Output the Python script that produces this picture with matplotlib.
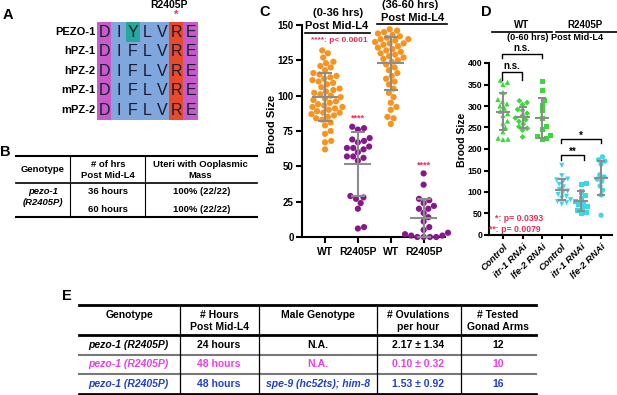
import numpy as np
import matplotlib.pyplot as plt
from matplotlib.patches import Rectangle

plt.rcParams['font.family'] = ['Liberation Sans', 'DejaVu Sans']
plt.rcParams['font.weight'] = 'bold'

W, H = 617, 395

# ---- panel A: alignment
seq_names = ['PEZO-1', 'hPZ-1', 'hPZ-2', 'mPZ-1', 'mPZ-2']
seqs = ['DIYLVRE', 'DIFLVRE', 'DIFLVRE', 'DIFLVRE', 'DIFLVRE']
col_colors = ['#c65cc9', '#7fa6dd', '#7fa6dd', '#7fa6dd', '#7fa6dd', '#e84a2c', '#c65cc9']

# ---- panel B: table
b_header = ['Genotype', '# of hrs\nPost Mid-L4', 'Uteri with Ooplasmic\nMass']
b_hours = ['36 hours', '60 hours']
b_uteri = ['100% (22/22)', '100% (22/22)']

# ---- panel C: brood size
c_labels = ['WT', 'R2405P', 'WT', 'R2405P']
wt_0_36 = [132, 130, 127, 124, 123, 121, 120, 118, 116, 115, 114, 113, 112, 111,
           110, 109, 108, 106, 105, 104, 103, 102, 101, 100, 99, 98, 97, 96, 95,
           94, 93, 92, 92, 91, 90, 89, 88, 88, 87, 86, 85, 84, 83, 81, 79, 75, 73,
           68, 67, 62]
r2405p_0_36 = [78, 77, 76, 70, 69, 68, 67, 64, 63, 63, 62, 60, 57, 57, 56, 54,
               29, 28, 27, 24, 20, 7, 6]
wt_36_60 = [147, 146, 145, 144, 143, 142, 141, 140, 140, 139, 138, 137, 137, 136,
            135, 134, 133, 132, 131, 130, 129, 128, 127, 126, 125, 124, 122, 120,
            118, 116, 114, 112, 110, 108, 105, 102, 99, 95, 92, 90, 85, 84, 80]
r2405p_36_60 = [45, 37, 27, 26, 24, 22, 20, 20, 17, 14, 11, 7, 5, 3, 2, 1, 1,
                0, 0, 0, 0]

# ---- panel D: RNAi brood size
d_labels = ['Control', 'itr-1 RNAi', 'lfe-2 RNAi'] * 2
wt_control = [360, 355, 350, 332, 315, 310, 305, 300, 295, 288, 282, 278, 265,
              260, 250, 240, 225, 223, 222]
wt_itr1 = [312, 308, 303, 292, 290, 283, 278, 272, 268, 264, 258, 252, 248, 244, 228]
wt_lfe2 = [358, 335, 312, 302, 290, 272, 252, 245, 232, 228, 225, 222]
mut_control = [162, 138, 130, 128, 125, 118, 112, 106, 102, 98, 94, 90, 86, 82,
               78, 75, 72]
mut_itr1 = [120, 118, 100, 92, 85, 78, 74, 70, 66, 62, 58, 52, 50]
mut_lfe2 = [182, 175, 172, 165, 140, 135, 130, 125, 114, 104, 93, 46]

# ---- panel E: table
e_header = ['Genotype', '# Hours\nPost Mid-L4', 'Male Genotype',
            '# Ovulations\nper hour', '# Tested\nGonad Arms']
e_hours = ['24 hours', '48 hours', '48 hours']
e_male = ['N.A.', 'N.A.', 'spe-9 (hc52ts); him-8']
e_rate = ['2.17 ± 1.34', '0.10 ± 0.32', '1.53 ± 0.92']
e_arms = ['12', '10', '16']
e_colors = ['black', '#e63fe6', '#1f3fd0']

red = '#ec2d55'
grey = '#8c8c8c'


def px(x0, y0, x1, y1):
    return [x0 / W, 1 - y1 / H, (x1 - x0) / W, (y1 - y0) / H]


def swarm_x(ax, xc, vals, d):
    pts = ax.transData.transform([(xc, v) for v in vals])
    ys = pts[:, 1]
    placed = []
    offs = np.zeros(len(vals))
    for i in np.argsort(ys):
        y = ys[i]
        cands = [0.0]
        for qx, qy in placed:
            dy = abs(y - qy)
            if dy < d:
                h = np.sqrt(d * d - dy * dy)
                cands += [qx + h, qx - h]
        cands.sort(key=abs)
        for c in cands:
            if all((c - qx) ** 2 + (y - qy) ** 2 >= d * d - 1e-6 for qx, qy in placed):
                break
        placed.append((c, y))
        offs[i] = c
    unit = ax.transData.transform((1, 0))[0] - ax.transData.transform((0, 0))[0]
    return xc + offs / unit


def dot_plot(ax, i, vals, color, marker, s, d, half, cap):
    xs = swarm_x(ax, i, vals, d)
    ax.scatter(xs, vals, s=s, marker=marker, color=color, edgecolors='none',
               clip_on=False, zorder=3)
    m, sd = np.mean(vals), np.std(vals, ddof=1)
    ax.errorbar(i, m, yerr=sd, fmt='none', ecolor=grey, elinewidth=1.5,
                capsize=cap, capthick=1.5, zorder=4)
    ax.hlines(m, i - half, i + half, color=grey, lw=1.5, zorder=4)


fig = plt.figure(figsize=(W / 100, H / 100), dpi=100)
ov = fig.add_axes([0, 0, 1, 1])
ov.set_xlim(0, W)
ov.set_ylim(H, 0)
ov.axis('off')

# panel letters
for lab, x, y in [('A', 8, 15), ('B', 5, 152), ('C', 265, 12), ('D', 486, 12), ('E', 67, 296)]:
    ov.text(x, y, lab, fontsize=10.5, ha='center', va='center')

# ---- A
edges = 97 + 14.4 * np.arange(8)
top, rh = 22, 19.5
for r, (name, seq) in enumerate(zip(seq_names, seqs)):
    y0 = top + r * rh
    ov.text(95, y0 + rh / 2, name, ha='right', va='center', fontsize=8)
    for c, ch in enumerate(seq):
        fc = '#24a99c' if ch == 'Y' else col_colors[c]
        ov.add_patch(Rectangle((edges[c], y0), 14.4, rh, facecolor=fc, edgecolor='none'))
        ov.text(edges[c] + 7.2, y0 + rh / 2 + 0.5, ch, ha='center', va='center',
                fontsize=11.5, fontweight='normal', color='#1a1a30')
ov.text(169, 5, 'R2405P', ha='center', va='center', fontsize=7.5)
ov.text(176, 15, '*', ha='center', va='center', fontsize=8, color=red)

# ---- B
ov.plot([16, 257], [156, 156], color='k', lw=1.5)
ov.plot([16, 257], [183, 183], color='k', lw=1.2)
ov.plot([16, 257], [217, 217], color='k', lw=1.5)
for x in [70, 145]:
    ov.plot([x, x], [156, 217], color='k', lw=0.8)
for x, s in zip([43, 108, 200], b_header):
    ov.text(x, 170, s, ha='center', va='center', fontsize=6.8, linespacing=1.2)
ov.text(43, 197, 'pezo-1\n(R2405P)', ha='center', va='center', fontsize=6.8,
        style='italic', linespacing=1.3)
for y, h, u in zip([192, 209], b_hours, b_uteri):
    ov.text(108, y, h, ha='center', va='center', fontsize=6.8)
    ov.text(202, y, u, ha='center', va='center', fontsize=6.8)

# ---- C
ax_c = fig.add_axes(px(302, 25, 445, 237))
ax_c.patch.set_alpha(0)
ax_c.set_xlim(-0.7, 3.65)
ax_c.set_ylim(0, 150)
c_data = [wt_0_36, r2405p_0_36, wt_36_60, r2405p_36_60]
c_cols = ['#f7931e', '#86198a', '#f7931e', '#86198a']
for i, (vals, col) in enumerate(zip(c_data, c_cols)):
    dot_plot(ax_c, i, vals, col, 'o', 20, 6.3, 0.41, 5.2)
ax_c.text(1, 81, '****', color=red, ha='center', va='bottom', fontsize=6.5)
ax_c.text(3, 48, '****', color=red, ha='center', va='bottom', fontsize=6.5)
ax_c.set_xticks(range(4))
ax_c.set_xticklabels(c_labels, fontsize=7.5)
ax_c.set_yticks(np.arange(0, 151, 25))
ax_c.tick_params(axis='y', labelsize=7, width=1.5, length=4, pad=2)
ax_c.tick_params(axis='x', width=1.5, length=4, pad=3)
for sp in ['top', 'right']:
    ax_c.spines[sp].set_visible(False)
for sp in ['left', 'bottom']:
    ax_c.spines[sp].set_linewidth(1.5)
ov.text(272, 124, 'Brood Size', rotation=90, ha='center', va='center', fontsize=8)
ov.text(338, 13, '(0-36 hrs)', ha='center', va='center', fontsize=8)
ov.text(337, 26, 'Post Mid-L4', ha='center', va='center', fontsize=8)
ov.plot([305, 370], [33, 33], color='k', lw=1.2)
ov.text(410, 5, '(36-60 hrs)', ha='center', va='center', fontsize=8)
ov.text(413, 18, 'Post Mid-L4', ha='center', va='center', fontsize=8)
ov.plot([377, 447], [24, 24], color='k', lw=1.2)
ov.text(339, 41, '****: p< 0.0001', ha='center', va='center', fontsize=6, color=red)

# ---- D
ax_d = fig.add_axes(px(489, 63, 612, 235))
ax_d.patch.set_alpha(0)
ax_d.set_xlim(-0.71, 5.56)
ax_d.set_ylim(0, 400)
d_data = [wt_control, wt_itr1, wt_lfe2, mut_control, mut_itr1, mut_lfe2]
d_cols = ['#3bd83b'] * 3 + ['#3ad9ea'] * 3
d_marks = ['^', 'D', 's', 'v', 's', 'o']
d_sizes = [14, 9, 13, 14, 13, 14]
for i, (vals, col, mk, s) in enumerate(zip(d_data, d_cols, d_marks, d_sizes)):
    dot_plot(ax_d, i, vals, col, mk, s, 5.0, 0.36, 3)
ax_d.set_xticks(range(6))
ax_d.set_xticklabels(d_labels, rotation=45, ha='right', va='top',
                     rotation_mode='anchor', fontsize=6.8, style='italic')
ax_d.set_yticks(np.arange(0, 401, 50))
ax_d.tick_params(axis='y', labelsize=6.3, width=1.5, length=3.5, pad=1.5)
ax_d.tick_params(axis='x', width=1.5, length=3, pad=2)
for sp in ['top', 'right']:
    ax_d.spines[sp].set_visible(False)
for sp in ['left', 'bottom']:
    ax_d.spines[sp].set_linewidth(1.5)
ax_d.text(0.05, 0.095, '*: p= 0.0393', transform=ax_d.transAxes, color=red,
          fontsize=6.2, va='center')
ax_d.text(0.0, 0.03, '**: p= 0.0079', transform=ax_d.transAxes, color=red,
          fontsize=6.2, va='center')
ov.text(462, 140, 'Brood Size', rotation=90, ha='center', va='center', fontsize=7.5)
ov.text(522, 25, 'WT', ha='center', va='center', fontsize=7)
ov.plot([492, 552], [32, 32], color='k', lw=1.2)
ov.text(585, 25, 'R2405P', ha='center', va='center', fontsize=7)
ov.plot([556, 617], [32, 32], color='k', lw=1.2)
ov.text(555, 38, '(0-60 hrs) Post Mid-L4', ha='center', va='center', fontsize=6.6)


def bracket(x0, x1, y, drop, label, ly):
    ov.plot([x0, x0, x1, x1], [y + drop, y, y, y + drop], color='k', lw=1)
    ov.text((x0 + x1) / 2, ly, label, ha='center', va='center', fontsize=7)


bracket(502, 542, 54, 4, 'n.s.', 48)
bracket(502, 522, 72, 8, 'n.s.', 66)
bracket(561, 601, 139, 4, '*', 136)
bracket(561, 584, 155, 5, '**', 152)

# ---- E
ov.plot([79, 536], [305, 305], color='k', lw=2)
ov.plot([79, 536], [335, 335], color='k', lw=2)
ov.plot([79, 536], [355, 355], color='#777777', lw=1.5)
ov.plot([79, 536], [374, 374], color='#777777', lw=1.5)
ov.plot([79, 536], [393.5, 393.5], color='k', lw=2)
for x in [180, 259, 377, 461]:
    ov.plot([x, x], [305, 393], color='k', lw=0.9)
for x, s in zip([129, 219, 318, 418, 498], e_header):
    ov.text(x, 321 if '\n' in s else 315, s, ha='center', va='center',
            fontsize=7.5, linespacing=1.25)
for y, h, m, r, a, c in zip([345, 364, 384], e_hours, e_male, e_rate, e_arms, e_colors):
    ov.text(128, y, 'pezo-1 (R2405P)', ha='center', va='center', fontsize=7.5,
            style='italic', color=c)
    ov.text(219, y, h, ha='center', va='center', fontsize=7.5, color=c)
    ov.text(318, y, m, ha='center', va='center', fontsize=7.5, color=c,
            style='italic' if m != 'N.A.' else 'normal')
    ov.text(418, y, r, ha='center', va='center', fontsize=7.5, color=c)
    ov.text(498, y, a, ha='center', va='center', fontsize=7.5, color=c)

fig.savefig('out.png', dpi=100)
